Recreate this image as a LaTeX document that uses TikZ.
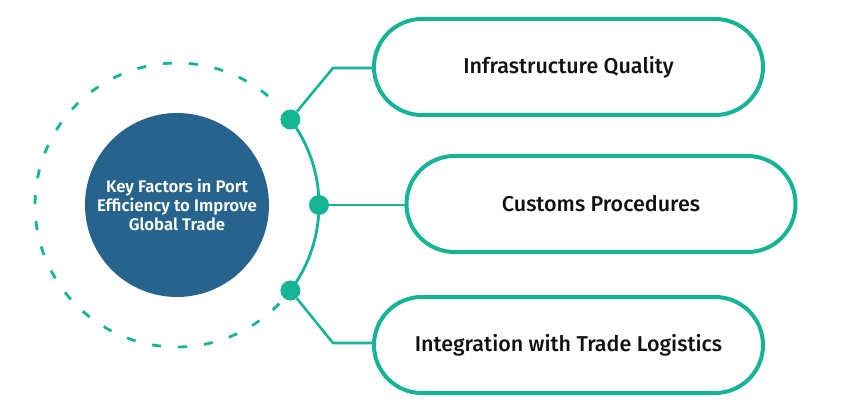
\documentclass[tikz,border=0pt]{standalone}
\usepackage{fontspec}
\setmainfont{Fira Sans}
\newfontfamily\pillfont{Fira Sans Medium}
\newfontfamily\hubfont{Fira Sans SemiBold}
\definecolor{teal1}{HTML}{14B494}
\definecolor{hubblue}{HTML}{27648D}
\definecolor{txt}{HTML}{111111}
\tikzset{
  pill/.style={draw=teal1, line width=4pt, fill=white, rectangle, rounded corners=47.9pt,
    minimum width=389pt, minimum height=96pt, inner sep=0pt,
    font=\pillfont\fontsize{21.5}{24}\selectfont, text=txt},
  dotnode/.style={circle, fill=teal1, minimum size=20pt, inner sep=0pt},
  link/.style={draw=teal1, line width=2.6pt},
  hub/.style={circle, fill=hubblue, minimum size=184pt, inner sep=0pt, text=white,
    align=center, font=\hubfont\fontsize{16.8}{19}\selectfont}
}
\begin{document}
\begin{tikzpicture}[x=1pt,y=-1pt]
\useasboundingbox (0,0) rectangle (843,414);
% rings
\draw[teal1, line width=2.8pt, dash pattern=on 9pt off 17pt]
  (177,205) ++(44:142) arc[start angle=44, end angle=316, radius=142];
\draw[teal1, line width=2.8pt]
  (177,205) ++(-37:142) arc[start angle=-37, end angle=37, radius=142];
% hub
\node[hub] (hub) at (177,205) {Key Factors in Port\\Efficiency to Improve\\Global Trade};
% dots
\node[dotnode] (d1) at (290.4,119.5) {};
\node[dotnode] (d2) at (319,205) {};
\node[dotnode] (d3) at (290.4,290.5) {};
% pills
\node[pill] (p1) at (568.5,67) {Infrastructure Quality};
\node[pill] (p2) at (601,204) {Customs Procedures};
\node[pill] (p3) at (568.5,345) {Integration with Trade Logistics};
% corners
\coordinate (c1) at (333,68);
\coordinate (c3) at (333,343);
% connectors
\draw[link] (d1) -- (c1) -- (p1.west |- c1);
\draw[link] (d2) -- (p2.west |- d2);
\draw[link] (d3) -- (c3) -- (p3.west |- c3);
\end{tikzpicture}
\end{document}
